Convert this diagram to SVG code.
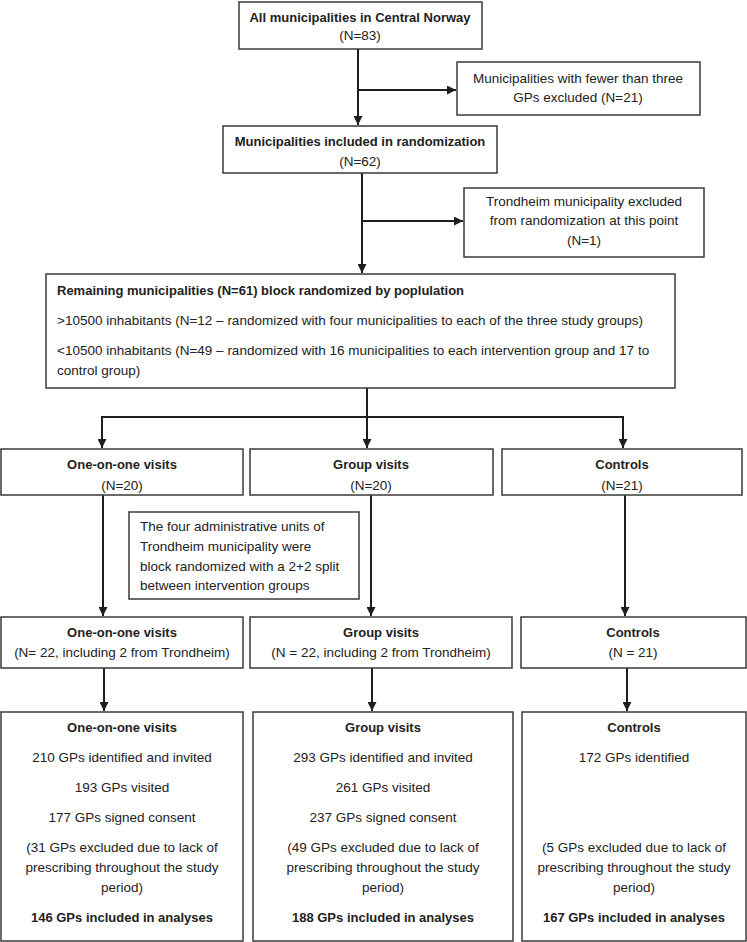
<svg xmlns="http://www.w3.org/2000/svg" width="747" height="942" viewBox="0 0 747 942">
<defs>
<style>
.box{fill:#fff;stroke:#3a3a3a;stroke-width:1.5}
.t{font-family:"Liberation Sans",Arial,sans-serif;font-size:13.5px;fill:#222}
.c{text-anchor:middle}
.b{font-weight:bold;font-size:13px}
.ln{fill:none;stroke:#1e1e1e;stroke-width:2}
</style>
<marker id="ah" viewBox="0 0 10 10" refX="10" refY="5" markerWidth="9" markerHeight="9" markerUnits="userSpaceOnUse" orient="auto">
<path d="M0,0 L10,5 L0,10 Z" fill="#1e1e1e"/>
</marker>
</defs>
<rect width="747" height="942" fill="#fff"/>

<g id="connectors">
<path class="ln" d="M358,49 V125" marker-end="url(#ah)"/>
<path class="ln" d="M358,90 H456" marker-end="url(#ah)"/>
<path class="ln" d="M362,173 V273" marker-end="url(#ah)"/>
<path class="ln" d="M362,221 H463" marker-end="url(#ah)"/>
<path class="ln" d="M367,388 V448" marker-end="url(#ah)"/>
<path class="ln" d="M102,448 V417 H623 V448" marker-end="url(#ah)"/>
<path class="ln" d="M102,417 V448" marker-end="url(#ah)"/>
<path class="ln" d="M103,495 V616" marker-end="url(#ah)"/>
<path class="ln" d="M371,495 V616" marker-end="url(#ah)"/>
<path class="ln" d="M625,495 V616" marker-end="url(#ah)"/>
<path class="ln" d="M104,668 V711" marker-end="url(#ah)"/>
<path class="ln" d="M372,668 V711" marker-end="url(#ah)"/>
<path class="ln" d="M627,668 V711" marker-end="url(#ah)"/>
</g>

<g id="all">
<rect class="box" x="239" y="2" width="243" height="47"/>
<text class="t c b" x="360" y="22">All municipalities in Central Norway</text>
<text class="t c" x="360" y="40">(N=83)</text>
</g>

<g id="excl-gps">
<rect class="box" x="457" y="62" width="243" height="53"/>
<text class="t c" x="578" y="83">Municipalities with fewer than three</text>
<text class="t c" x="578" y="102">GPs excluded (N=21)</text>
</g>

<g id="included">
<rect class="box" x="223" y="126" width="274" height="47"/>
<text class="t c b" x="360" y="146">Municipalities included in randomization</text>
<text class="t c" x="360" y="166">(N=62)</text>
</g>

<g id="excl-trondheim">
<rect class="box" x="464" y="188" width="240" height="69"/>
<text class="t c" x="584" y="206">Trondheim municipality excluded</text>
<text class="t c" x="584" y="225">from randomization at this point</text>
<text class="t c" x="584" y="245">(N=1)</text>
</g>

<g id="remaining">
<rect class="box" x="46" y="274" width="629" height="114"/>
<text class="t b" x="57" y="295">Remaining municipalities (N=61) block randomized by poplulation</text>
<text class="t" x="57" y="325">&gt;10500 inhabitants (N=12 – randomized with four municipalities to each of the three study groups)</text>
<text class="t" x="57" y="355">&lt;10500 inhabitants (N=49 – randomized with 16 municipalities to each intervention group and 17 to</text>
<text class="t" x="57" y="375">control group)</text>
</g>

<g id="r1-one">
<rect class="box" x="1" y="449" width="242" height="46"/>
<text class="t c b" x="122" y="469">One-on-one visits</text>
<text class="t c" x="122" y="490">(N=20)</text>
</g>
<g id="r1-group">
<rect class="box" x="250" y="449" width="243" height="46"/>
<text class="t c b" x="371" y="469">Group visits</text>
<text class="t c" x="371" y="490">(N=20)</text>
</g>
<g id="r1-controls">
<rect class="box" x="502" y="449" width="240" height="46"/>
<text class="t c b" x="622" y="469">Controls</text>
<text class="t c" x="622" y="490">(N=21)</text>
</g>

<g id="note">
<rect class="box" x="129" y="512" width="230" height="87"/>
<text class="t" x="140" y="531">The four administrative units of</text>
<text class="t" x="140" y="551">Trondheim municipality were</text>
<text class="t" x="140" y="571">block randomized with a 2+2 split</text>
<text class="t" x="140" y="590">between intervention groups</text>
</g>

<g id="r2-one">
<rect class="box" x="1" y="617" width="242" height="51"/>
<text class="t c b" x="122" y="637">One-on-one visits</text>
<text class="t c" x="122" y="657">(N= 22, including 2 from Trondheim)</text>
</g>
<g id="r2-group">
<rect class="box" x="250" y="617" width="262" height="51"/>
<text class="t c b" x="381" y="637">Group visits</text>
<text class="t c" x="381" y="657">(N = 22, including 2 from Trondheim)</text>
</g>
<g id="r2-controls">
<rect class="box" x="521" y="617" width="225" height="51"/>
<text class="t c b" x="633" y="637">Controls</text>
<text class="t c" x="633" y="657">(N = 21)</text>
</g>

<g id="r3-one">
<rect class="box" x="1" y="712" width="242" height="229"/>
<text class="t c b" x="122" y="732">One-on-one visits</text>
<text class="t c" x="122" y="762">210 GPs identified and invited</text>
<text class="t c" x="122" y="792">193 GPs visited</text>
<text class="t c" x="122" y="822">177 GPs signed consent</text>
<text class="t c" x="122" y="852">(31 GPs excluded due to lack of</text>
<text class="t c" x="122" y="872">prescribing throughout the study</text>
<text class="t c" x="122" y="892">period)</text>
<text class="t c b" x="122" y="922">146 GPs included in analyses</text>
</g>
<g id="r3-group">
<rect class="box" x="253" y="712" width="260" height="229"/>
<text class="t c b" x="383" y="732">Group visits</text>
<text class="t c" x="383" y="762">293 GPs identified and invited</text>
<text class="t c" x="383" y="792">261 GPs visited</text>
<text class="t c" x="383" y="822">237 GPs signed consent</text>
<text class="t c" x="383" y="852">(49 GPs excluded due to lack of</text>
<text class="t c" x="383" y="872">prescribing throughout the study</text>
<text class="t c" x="383" y="892">period)</text>
<text class="t c b" x="383" y="922">188 GPs included in analyses</text>
</g>
<g id="r3-controls">
<rect class="box" x="522" y="712" width="224" height="229"/>
<text class="t c b" x="634" y="732">Controls</text>
<text class="t c" x="634" y="762">172 GPs identified</text>
<text class="t c" x="634" y="852">(5 GPs excluded due to lack of</text>
<text class="t c" x="634" y="872">prescribing throughout the study</text>
<text class="t c" x="634" y="892">period)</text>
<text class="t c b" x="634" y="922">167 GPs included in analyses</text>
</g>
</svg>
